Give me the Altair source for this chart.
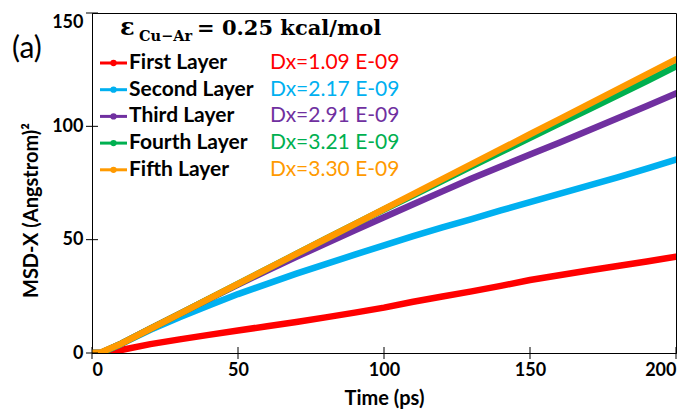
import altair as alt
import pandas as pd

# ---- data ----
time_ps = [0, 3, 10, 20, 30, 40, 50, 60, 70, 80, 90, 100, 110, 120, 130, 140, 150, 160, 170, 180, 190, 200]
first  = [0, 0, 1.3, 3.9, 6.0, 8.0, 9.9, 11.8, 13.7, 15.7, 17.8, 20.0, 22.6, 24.9, 27.2, 29.6, 32.2, 34.3, 36.4, 38.4, 40.4, 42.5]
second = [0, 0, 4.0, 10.2, 15.8, 21.0, 26.0, 30.5, 35.0, 39.2, 43.4, 47.5, 51.6, 55.4, 59.1, 62.9, 66.6, 70.2, 73.8, 77.5, 81.3, 85.3]
third  = [0, 0, 4.1, 10.7, 17.3, 23.8, 30.2, 36.4, 42.4, 48.3, 54.1, 59.9, 65.6, 71.3, 77.0, 82.3, 87.6, 92.8, 98.2, 103.6, 109.0, 114.5]
fourth = [0, 0, 4.1, 10.7, 17.3, 23.9, 30.5, 37.1, 43.7, 50.3, 56.9, 63.3, 69.6, 76.0, 82.3, 88.6, 94.9, 101.2, 107.4, 113.7, 120.0, 126.4]
fifth  = [0, 0.2, 4.1, 10.7, 17.3, 23.9, 30.5, 37.1, 43.7, 50.3, 56.9, 63.5, 70.1, 76.7, 83.3, 89.9, 96.5, 103.1, 109.7, 116.3, 122.9, 129.5]

layers = ["First Layer", "Second Layer", "Third Layer", "Fourth Layer", "Fifth Layer"]
dx_labels = ["Dx=1.09 E-09", "Dx=2.17 E-09", "Dx=2.91 E-09", "Dx=3.21 E-09", "Dx=3.30 E-09"]
colors = ["#FF0000", "#00B0F0", "#7030A0", "#00B050", "#FF9A00"]
series = [first, second, third, fourth, fifth]

x_ticks = [0, 50, 100, 150, 200]
y_ticks = [0, 50, 100, 150]

W, H = 584, 340
FONT = "Lato"

rows = []
for name, vals in zip(layers, series):
    for t, v in zip(time_ps, vals):
        rows.append({"t": t, "msd": v, "layer": name})
df = pd.DataFrame(rows)

xs = alt.Scale(domain=[0, 200], nice=False)
ys = alt.Scale(domain=[0, 150], nice=False)
cs = alt.Scale(domain=layers, range=colors)

x_axis = alt.Axis(values=x_ticks, ticks=False, grid=False, domainColor="black",
                  labelFont=FONT, labelFontWeight="bold", labelFontSize=18, labelColor="black",
                  labelPadding=8, title="Time (ps)", titleFont=FONT, titleFontSize=20,
                  titleFontWeight="bold", titleColor="black", titleX=W / 2, titleY=45,
                  titleBaseline="middle", titleAlign="center")
y_axis = alt.Axis(values=y_ticks, ticks=False, grid=False, domainColor="black",
                  labelFont=FONT, labelFontWeight="bold", labelFontSize=18, labelColor="black",
                  labelPadding=9,
                  labelBaseline={"expr": "datum.value >= 150 ? 'top' : 'middle'"},
                  title="MSD-X (Angstrom)²", titleFont=FONT, titleFontSize=20,
                  titleFontWeight="bold", titleColor="black", titleX=-61, titleY=197,
                  titleBaseline="middle", titleAlign="center", titleAngle=-90)

line_layers = []
for i, name in enumerate(layers):
    c = alt.Chart(df).transform_filter(alt.datum.layer == name).mark_line(
        strokeWidth=6.5, strokeCap="round", strokeJoin="round", clip=True
    ).encode(
        x=alt.X("t:Q", scale=xs, axis=x_axis),
        y=alt.Y("msd:Q", scale=ys, axis=y_axis),
        color=alt.Color("layer:N", scale=cs, legend=None),
    )
    line_layers.append(c)

# tick marks crossing the axes
xt = alt.Chart(pd.DataFrame({"v": x_ticks})).mark_rule(color="black", strokeWidth=1).encode(
    x=alt.X("v:Q", scale=xs, axis=x_axis), y=alt.value(H - 6), y2=alt.value(H + 6))
yt = alt.Chart(pd.DataFrame({"v": y_ticks})).mark_rule(color="black", strokeWidth=1).encode(
    y=alt.Y("v:Q", scale=ys, axis=y_axis), x=alt.value(-6), x2=alt.value(6))

# legend
leg = pd.DataFrame({"layer": layers, "dx": dx_labels, "i": list(range(5))})
leg["py"] = 50 + leg["i"] * 26.7
leg_base = alt.Chart(leg)
leg_line = leg_base.mark_rule(strokeWidth=3).encode(
    x=alt.value(8), x2=alt.value(35), y=alt.Y("py:Q", scale=None),
    color=alt.Color("layer:N", scale=cs, legend=None))
leg_pt = leg_base.mark_point(filled=True, size=40, opacity=1).encode(
    x=alt.value(21.5), y=alt.Y("py:Q", scale=None),
    color=alt.Color("layer:N", scale=cs, legend=None))
leg_txt = leg_base.mark_text(align="left", baseline="middle", font=FONT, fontWeight="bold",
                             fontSize=21, color="black").encode(
    x=alt.value(37), y=alt.Y("py:Q", scale=None), text="layer:N")
leg_dx = leg_base.mark_text(align="left", baseline="middle", font=FONT,
                            fontSize=21).encode(
    x=alt.value(178), y=alt.Y("py:Q", scale=None), text="dx:N",
    color=alt.Color("layer:N", scale=cs, legend=None))

# title annotation
eps = alt.Chart(pd.DataFrame({"s": ["ε"]})).mark_text(
    align="left", baseline="alphabetic", font="DejaVu Serif", fontWeight="bold",
    fontSize=24, color="black").encode(x=alt.value(28), y=alt.value(22), text="s:N")
sub = alt.Chart(pd.DataFrame({"s": ["Cu−Ar"]})).mark_text(
    align="left", baseline="alphabetic", font="DejaVu Serif", fontWeight="bold",
    fontSize=14.5, color="black").encode(x=alt.value(47), y=alt.value(28), text="s:N")
rest = alt.Chart(pd.DataFrame({"s": ["= 0.25  kcal/mol"]})).mark_text(
    align="left", baseline="alphabetic", font="DejaVu Serif", fontWeight="bold",
    fontSize=21, color="black").encode(x=alt.value(105), y=alt.value(22), text="s:N")
panel = alt.Chart(pd.DataFrame({"s": ["(a)"]})).mark_text(
    align="left", baseline="middle", font=FONT, fontSize=30, color="black").encode(
    x=alt.value(-80), y=alt.value(36), text="s:N")

chart = alt.layer(*line_layers, xt, yt, leg_line, leg_pt, leg_txt, leg_dx,
                  eps, sub, rest, panel).properties(
    width=W, height=H,
    autosize=alt.AutoSizeParams(type="none"),
    padding={"left": 92, "top": 13, "right": 7, "bottom": 56},
    background="white",
).configure_view(stroke="black", strokeWidth=1)

chart.save("out.html", embed_options={"renderer": "svg", "actions": False})
